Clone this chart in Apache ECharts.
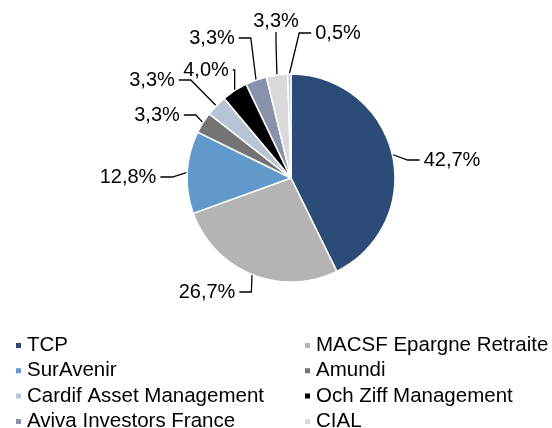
<!DOCTYPE html>
<html>
<head>
<meta charset="utf-8">
<script src="https://cdn.jsdelivr.net/npm/echarts@6/dist/echarts.min.js"></script>
<style>
    html, body { margin: 0; padding: 0; background: #fff; }
    #chart { width: 552px; height: 428px; }
</style>
</head>
<body>
<div id="chart"></div>
<script>
const names = [
    'TCP', 'MACSF Epargne Retraite', 'SurAvenir', 'Amundi',
    'Cardif Asset Management', 'Och Ziff Management',
    'Aviva Investors France', 'CIAL', 'Autres'
];
const shares = [42.7, 26.7, 12.8, 3.3, 3.3, 4.0, 3.3, 3.3, 0.5];
const colors = [
    '#2d4b77', '#b4b4b4', '#6199cb', '#737373',
    '#b8c4d4', '#000000', '#8892ab', '#d9d9d9', '#a8c8e8'
];
const leftLegend = ['TCP', 'SurAvenir', 'Cardif Asset Management', 'Aviva Investors France'];
const rightLegend = ['MACSF Epargne Retraite', 'Amundi', 'Och Ziff Management', 'CIAL'];

// where the data labels sit (label centre, px)
const labelPos = [
    [452, 160], [207, 292], [128, 177], [157, 115],
    [152, 80], [206, 70], [212, 38], [276, 21], [338, 33]
];

const font = 'Liberation Sans, Arial, sans-serif';
const chart = echarts.init(document.getElementById('chart'));

const legendBase = {
    orient: 'vertical',
    top: 335,
    height: 120,
    padding: 0,
    itemWidth: 7,
    itemHeight: 7,
    itemGap: 4.3,
    icon: 'rect',
    textStyle: { fontFamily: font, fontSize: 20.5, color: '#000', lineHeight: 20 },
};

chart.setOption({
    animation: false,
    legend: [
        { ...legendBase, left: 14, data: leftLegend },
        { ...legendBase, left: 303, data: rightLegend },
    ],
    series: [
        {
            type: 'pie',
            center: [291, 178],
            radius: [0, 104],
            startAngle: 90,
            clockwise: true,
            avoidLabelOverlap: false,
            itemStyle: {
                borderColor: '#fff',
                borderWidth: 1.5,
            },
            label: {
                show: true,
                fontFamily: font,
                fontSize: 20,
                color: '#000',
                padding: [1, 4],
                backgroundColor: 'rgba(255,255,255,0.01)',
                formatter: p => p.value.toFixed(1).replace('.', ',') + '%',
            },
            labelLine: {
                show: true,
                length: 10,
                length2: 12,
                lineStyle: { color: '#000', width: 1.3 },
            },
            labelLayout: params => {
                const pos = labelPos[params.dataIndex];
                return { x: pos[0], y: pos[1], align: 'center', verticalAlign: 'middle' };
            },
            data: names.map((name, i) => ({
                name,
                value: shares[i],
                itemStyle: { color: colors[i] },
            })),
        },
    ],
});
</script>
</body>
</html>
